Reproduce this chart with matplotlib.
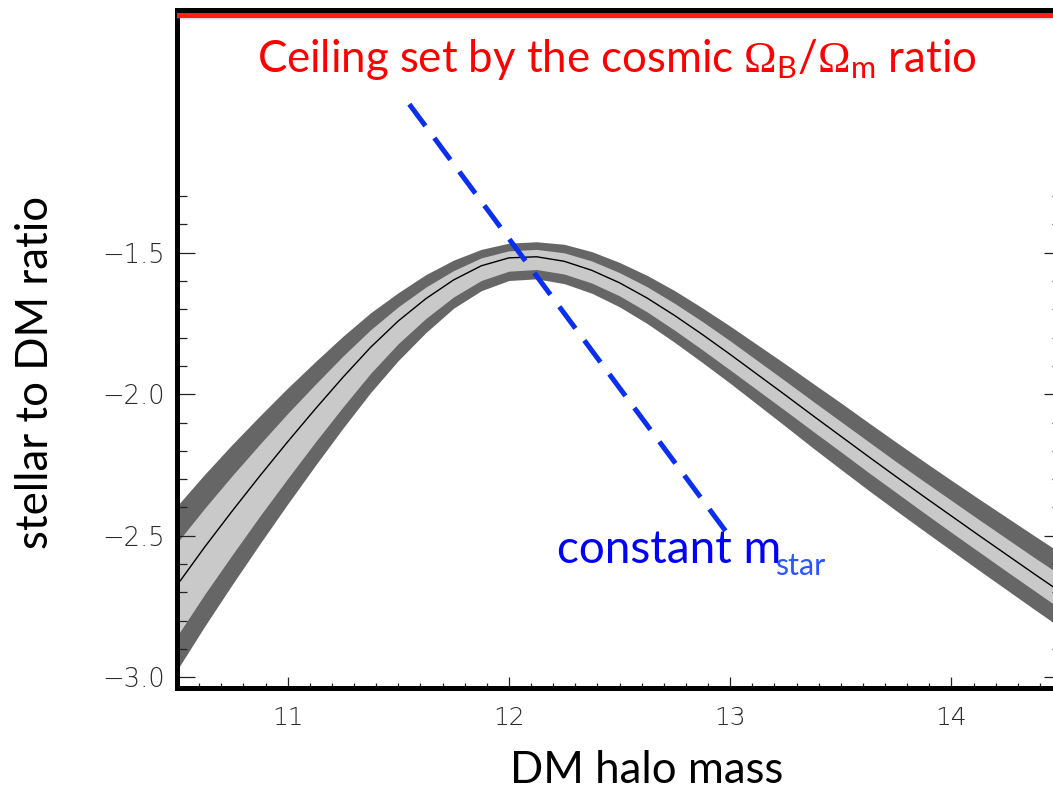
import numpy as np
import matplotlib.pyplot as plt
from matplotlib.ticker import FixedLocator

plt.rcParams['mathtext.fontset'] = 'custom'
plt.rcParams['mathtext.rm'] = 'Liberation Serif'
plt.rcParams['mathtext.sf'] = 'Lato'
plt.rcParams['mathtext.it'] = 'Lato'

# log halo mass and median log(M*/Mh), with the 1- and 2-sigma band offsets
halo_mass = [10.5, 10.625, 10.75, 10.875, 11.0, 11.125, 11.25, 11.375, 11.5, 11.625,
             11.75, 11.875, 12.0, 12.125, 12.25, 12.375, 12.5, 12.625, 12.75, 12.875,
             13.0, 13.125, 13.25, 13.375, 13.5, 13.625, 13.75, 13.875, 14.0, 14.125,
             14.25, 14.375, 14.5]
ratio = [-2.675, -2.540, -2.412, -2.288, -2.168, -2.052, -1.940, -1.834, -1.741, -1.662,
         -1.596, -1.546, -1.518, -1.514, -1.530, -1.562, -1.606, -1.660, -1.722, -1.789,
         -1.859, -1.931, -2.003, -2.076, -2.148, -2.220, -2.291, -2.361, -2.430, -2.499,
         -2.567, -2.635, -2.702]
inner_hi = [0.150, 0.137, 0.125, 0.112, 0.100, 0.087, 0.075, 0.062, 0.050, 0.041,
            0.033, 0.028, 0.025, 0.026, 0.030, 0.033, 0.036, 0.040, 0.043, 0.046,
            0.048, 0.049, 0.050, 0.051, 0.052, 0.053, 0.053, 0.054, 0.055, 0.056,
            0.057, 0.058, 0.060]
inner_lo = [0.180, 0.167, 0.155, 0.142, 0.130, 0.117, 0.105, 0.092, 0.080, 0.070,
            0.060, 0.052, 0.047, 0.045, 0.045, 0.045, 0.046, 0.049, 0.052, 0.054,
            0.055, 0.055, 0.055, 0.055, 0.055, 0.056, 0.056, 0.057, 0.058, 0.058,
            0.059, 0.059, 0.060]
outer_hi = [0.280, 0.257, 0.235, 0.212, 0.190, 0.167, 0.145, 0.122, 0.100, 0.085,
            0.070, 0.058, 0.052, 0.053, 0.060, 0.066, 0.072, 0.080, 0.088, 0.094,
            0.100, 0.105, 0.110, 0.114, 0.118, 0.120, 0.122, 0.124, 0.126, 0.129,
            0.132, 0.135, 0.138]
outer_lo = [0.300, 0.280, 0.260, 0.240, 0.220, 0.200, 0.180, 0.160, 0.140, 0.120,
            0.100, 0.088, 0.080, 0.078, 0.079, 0.081, 0.085, 0.090, 0.095, 0.099,
            0.102, 0.106, 0.110, 0.114, 0.117, 0.119, 0.120, 0.121, 0.122, 0.123,
            0.124, 0.125, 0.126]

# line of constant stellar mass
mstar_x = [11.55, 13.0]
mstar_y = [-0.975, -2.505]

ceiling = -0.658

xticks = [11, 12, 13, 14]
xticklabels = ['11', '12', '13', '14']
yticks = [-3.0, -2.5, -2.0, -1.5]
yticklabels = ['\u22123.0', '\u22122.5', '\u22122.0', '\u22121.5']

x = np.array(halo_mass)
y = np.array(ratio)

W, H = 1053, 791
fig = plt.figure(figsize=(W / 100, H / 100), dpi=100)
ax = fig.add_axes([177 / W, (H - 688) / H, (1062 - 177) / W, (688 - 10) / H])

ax.fill_between(x, y - np.array(outer_lo), y + np.array(outer_hi), color='#666666', lw=0)
ax.fill_between(x, y - np.array(inner_lo), y + np.array(inner_hi), color='#c9c9c9', lw=0)
ax.plot(x, y, color='black', lw=1.0)

ax.plot(mstar_x, mstar_y, color='#0a2ff0', lw=3.6, dashes=(5.4, 3.0),
        dash_capstyle='butt', zorder=5)

# ceiling line with a soft shadow under it
for off, a in [(0.012, 0.10), (0.008, 0.18), (0.004, 0.3)]:
    ax.axhline(ceiling - off, color='#888888', lw=3.0, alpha=a, zorder=3)
ax.axhline(ceiling, color='#ff2200', lw=3.6, zorder=4)

ax.set_xlim(10.5, 14.5)
ax.set_ylim(-3.038, -0.642)

for side in ['left', 'bottom', 'top', 'right']:
    ax.spines[side].set_linewidth(3.6)
    ax.spines[side].set_color('black')

ax.set_xticks(xticks, xticklabels)
ax.set_yticks(yticks, yticklabels)
ax.xaxis.set_minor_locator(FixedLocator([v / 10 for v in range(106, 145) if v % 10]))
ax.yaxis.set_minor_locator(FixedLocator([-v / 10 for v in range(13, 31) if v % 5]))

ax.tick_params(axis='x', which='both', direction='in', top=False, bottom=True,
               color='#222222', width=0.9, labelsize=18, labelcolor='#2a2a2a', pad=13)
ax.tick_params(axis='x', which='major', length=8)
ax.tick_params(axis='x', which='minor', length=3.5)
ax.tick_params(axis='y', which='both', direction='in', left=True, right=True,
               color='#222222', width=0.9, labelsize=18.5, labelcolor='#2a2a2a', pad=9)
ax.tick_params(axis='y', which='major', length=13)
ax.tick_params(axis='y', which='minor', length=7)
for lab in ax.get_xticklabels() + ax.get_yticklabels():
    lab.set_fontfamily('DejaVu Sans')
    lab.set_fontweight('light')

fig.text(617 / W, 1 - 72 / H,
         r'Ceiling set by the cosmic $\Omega_{\mathsf{B}}\mathsf{/}\Omega_{\mathsf{m}}$ ratio',
         color='#ff0000', fontsize=31.5, family='Lato', ha='center', va='baseline')
fig.text(557 / W, 1 - 563 / H, 'constant m',
         color='#0000ff', fontsize=33, family='Lato', ha='left', va='baseline')
fig.text(775 / W, 1 - 575 / H, 'star',
         color='#2a55ff', fontsize=22, family='Lato', ha='left', va='baseline')
fig.text(36 / W, 1 - 372 / H, 'stellar to DM ratio', rotation=90,
         fontsize=31.5, family='Lato', ha='center', va='center')
fig.text(647 / W, 1 - 783 / H, 'DM halo mass',
         fontsize=31.5, family='Lato', ha='center', va='baseline')

fig.savefig('out.png', dpi=100)
